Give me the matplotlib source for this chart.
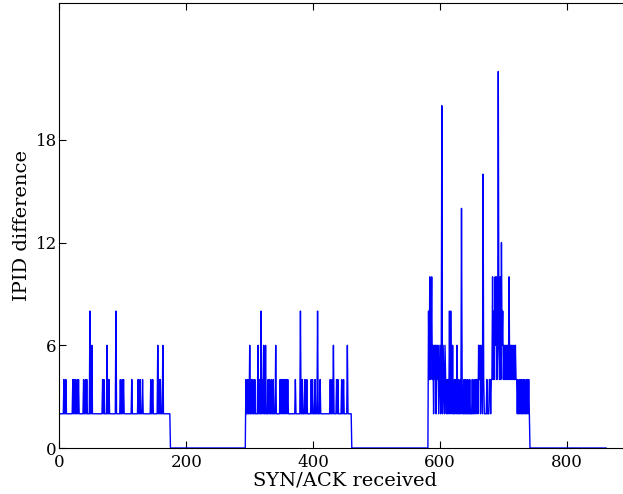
import numpy as np
import matplotlib
matplotlib.use("Agg")
import matplotlib.pyplot as plt

# Active periods (index ranges where the baseline difference is 2)
seg_start = [0, 294, 582]
seg_end = [174, 460, 741]
last_x = 862

# Spikes (index, IPID difference)
spike1_x = [7, 10, 21, 23, 25, 28, 30, 38, 41, 43, 48, 51, 68, 70, 75, 78, 89,
            96, 99, 101, 114, 124, 127, 131, 144, 147, 155, 157, 159, 163]
spike1_y = [4, 4, 4, 4, 4, 4, 4, 4, 4, 4, 8, 6, 4, 4, 6, 4, 8,
            4, 4, 4, 4, 4, 4, 4, 4, 4, 6, 4, 4, 6]

spike2_x = [294, 297, 300, 303, 305, 308, 313, 315, 318, 320, 322, 325, 329, 331,
            334, 337, 341, 348, 350, 352, 354, 356, 358, 360, 372, 380, 383, 387,
            390, 397, 399, 403, 407, 411, 427, 430, 432, 437, 439, 445, 448, 454]
spike2_y = [4, 4, 6, 4, 4, 4, 6, 4, 8, 4, 6, 6, 4, 4,
            4, 4, 6, 4, 4, 4, 4, 4, 4, 4, 4, 8, 4, 4,
            4, 4, 4, 4, 8, 4, 4, 4, 6, 4, 4, 4, 4, 6]

# Third cluster, every index from 582 to 741
cluster3 = [8, 4, 10, 4, 6, 10, 4, 6, 2, 6,
            4, 6, 2, 6, 4, 6, 2, 4, 6, 2,
            4, 20, 2, 6, 4, 2, 6, 4, 2, 4,
            2, 4, 2, 8, 2, 8, 4, 2, 6, 2,
            2, 4, 2, 4, 2, 6, 2, 4, 2, 2,
            4, 2, 14, 4, 2, 2, 4, 2, 2, 4,
            2, 2, 4, 2, 2, 4, 2, 2, 2, 4,
            2, 2, 4, 2, 4, 2, 4, 4, 2, 6,
            4, 6, 2, 6, 4, 2, 16, 4, 2, 2,
            2, 2, 4, 2, 2, 2, 4, 4, 2, 4,
            4, 10, 4, 8, 4, 10, 6, 10, 4, 6,
            22, 6, 4, 10, 4, 12, 6, 8, 4, 6,
            4, 6, 4, 6, 4, 6, 4, 10, 4, 6,
            4, 6, 4, 6, 4, 6, 4, 6, 4, 4,
            2, 4, 2, 2, 4, 2, 4, 2, 2, 4,
            2, 4, 2, 2, 4, 2, 4, 2, 4, 2]

x = np.arange(last_x + 1)
y = np.zeros(len(x))
for s, e in zip(seg_start, seg_end):
    y[s:e + 1] = 2
y[spike1_x] = spike1_y
y[spike2_x] = spike2_y
y[seg_start[2]:seg_end[2] + 1] = cluster3

plt.rcParams['font.family'] = 'DejaVu Serif'
fig = plt.figure(figsize=(6.23, 4.94), dpi=100)
ax = fig.add_axes([0.0955, 0.0931, 0.9160, 0.9008])
ax.plot(x, y, color='#0000ff', linewidth=1.0)
ax.set_xlim(0, 900)
ax.set_ylim(0, 26)
ax.set_xticks([0, 200, 400, 600, 800])
ax.set_yticks([0, 6, 12, 18])
ax.tick_params(direction='in', top=True, right=True, labelsize=12, length=5)
ax.tick_params(axis='x', pad=4)
ax.tick_params(axis='y', pad=2)
ax.set_xlabel('SYN/ACK received', fontsize=14, labelpad=1)
ax.set_ylabel('IPID difference', fontsize=14, labelpad=3)
fig.savefig('out.png', dpi=100)
